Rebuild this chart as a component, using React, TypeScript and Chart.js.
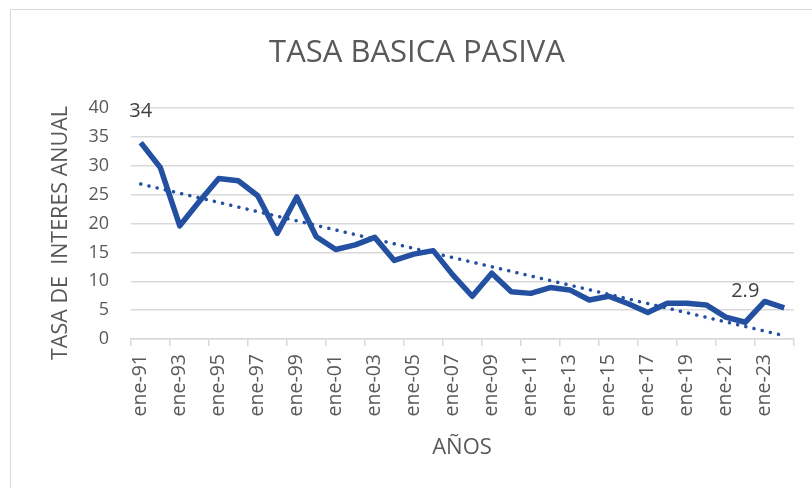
import React, { useEffect, useRef } from "react";
import { Chart, registerables } from "chart.js";

Chart.register(...registerables);

const years: string[] = [
  "91","92","93","94","95","96","97","98","99","00","01","02","03","04","05","06","07",
  "08","09","10","11","12","13","14","15","16","17","18","19","20","21","22","23","24",
];
const categories: string[] = years.map((y) => "ene-" + y);
const tasa: number[] = [
  34, 29.7, 19.6, 23.8, 27.8, 27.4, 24.8, 18.3, 24.6, 17.7, 15.5, 16.3, 17.6, 13.6, 14.7, 15.3, 11.1,
  7.4, 11.4, 8.2, 7.9, 8.9, 8.5, 6.75, 7.4, 6.1, 4.6, 6.2, 6.2, 5.9, 3.8, 2.9, 6.5, 5.4,
];
const labelledIdx: number[] = [0, 31];
const labelText: string[] = ["34", "2.9"];
const yTicks: number[] = [0, 5, 10, 15, 20, 25, 30, 35, 40];

const TITLE = "TASA BASICA PASIVA";
const Y_TITLE = "TASA DE  INTERES ANUAL";
const X_TITLE = "AÑOS";

function linearTrend(v: number[]): number[] {
  const n = v.length;
  let sx = 0, sy = 0, sxx = 0, sxy = 0;
  v.forEach((y, i) => { sx += i; sy += y; sxx += i * i; sxy += i * y; });
  const b = (n * sxy - sx * sy) / (n * sxx - sx * sx);
  const a = (sy - b * sx) / n;
  return v.map((_, i) => a + b * i);
}

const BLUE = "#2350A0";
const TEXT = "#595959";
const FONT = "'Open Sans', sans-serif";

export default function App() {
  const ref = useRef<HTMLCanvasElement | null>(null);
  useEffect(() => {
    if (!ref.current) return;
    const textPlugin = {
      id: "texts",
      afterDraw(chart: any) {
        const ctx = chart.ctx as CanvasRenderingContext2D;
        ctx.save();
        ctx.fillStyle = TEXT;
        ctx.textAlign = "center";
        ctx.textBaseline = "middle";
        ctx.font = `31px ${FONT}`;
        ctx.fillText(TITLE, 417, 53);
        ctx.font = `22px ${FONT}`;
        ctx.fillText(X_TITLE, 462, 448);
        ctx.save();
        ctx.translate(61, 233);
        ctx.rotate(-Math.PI / 2);
        ctx.font = `21.5px ${FONT}`;
        ctx.fillText(Y_TITLE, 0, 0);
        ctx.restore();
        const meta = chart.getDatasetMeta(0);
        ctx.font = `20px ${FONT}`;
        ctx.fillStyle = "#404040";
        labelledIdx.forEach((idx, k) => {
          const p = meta.data[idx];
          ctx.fillText(labelText[k], p.x, p.y - 31);
        });
        ctx.restore();
      },
    };
    const chart = new Chart(ref.current, {
      type: "line",
      data: {
        labels: categories,
        datasets: [
          {
            data: tasa,
            borderColor: BLUE,
            borderWidth: 5.5,
            pointRadius: 0,
            tension: 0,
            borderJoinStyle: "round",
            order: 1,
          },
          {
            data: linearTrend(tasa),
            borderColor: BLUE,
            borderWidth: 3.5,
            borderDash: [0.1, 8.3],
            borderCapStyle: "round",
            pointRadius: 0,
            tension: 0,
            order: 2,
          },
        ],
      },
      options: {
        animation: false,
        responsive: false,
        layout: { padding: { top: 108, right: 18, left: 0, bottom: 0 } },
        plugins: { legend: { display: false }, title: { display: false }, tooltip: { enabled: false } },
        scales: {
          x: {
            type: "category",
            offset: true,
            afterFit: (s: any) => { s.height = 149; s.paddingLeft = 0; s.paddingRight = 0; },
            grid: {
              offset: true,
              drawOnChartArea: false,
              drawTicks: true,
              tickLength: 7,
              lineWidth: 1.5,
              color: (c: any) => (c.index === undefined || c.index % 2 === 0 ? "#d9d9d9" : "rgba(0,0,0,0)"),
            },
            border: { display: true, color: "#d9d9d9", width: 1.5 },
            ticks: {
              autoSkip: false,
              maxRotation: 90,
              minRotation: 90,
              padding: 8,
              color: TEXT,
              font: { family: FONT, size: 19.5 },
              callback: (_v: any, i: number) => (i % 2 === 0 ? categories[i] : ""),
            },
          },
          y: {
            min: 0,
            max: 40,
            afterFit: (s: any) => { s.width = 131; s.paddingTop = 0; s.paddingBottom = 0; },
            afterBuildTicks: (s: any) => { s.ticks = yTicks.map((v) => ({ value: v })); },
            grid: { color: "#d9d9d9", lineWidth: 1.5, drawTicks: false },
            border: { display: false },
            ticks: { padding: 22, color: TEXT, font: { family: FONT, size: 18 } },
          },
        },
      },
      plugins: [textPlugin],
    } as any);
    return () => chart.destroy();
  }, []);
  return (
    <div style={{ position: "fixed", left: 0, top: 0, width: 812, height: 488, overflow: "hidden", background: "#fff" }}>
      <div style={{ position: "absolute", left: 10, top: 9, width: 900, height: 600, border: "1.5px solid #d9d9d9" }} />
      <canvas ref={ref} width={812} height={488} style={{ position: "absolute", left: 0, top: 0 }} />
    </div>
  );
}
